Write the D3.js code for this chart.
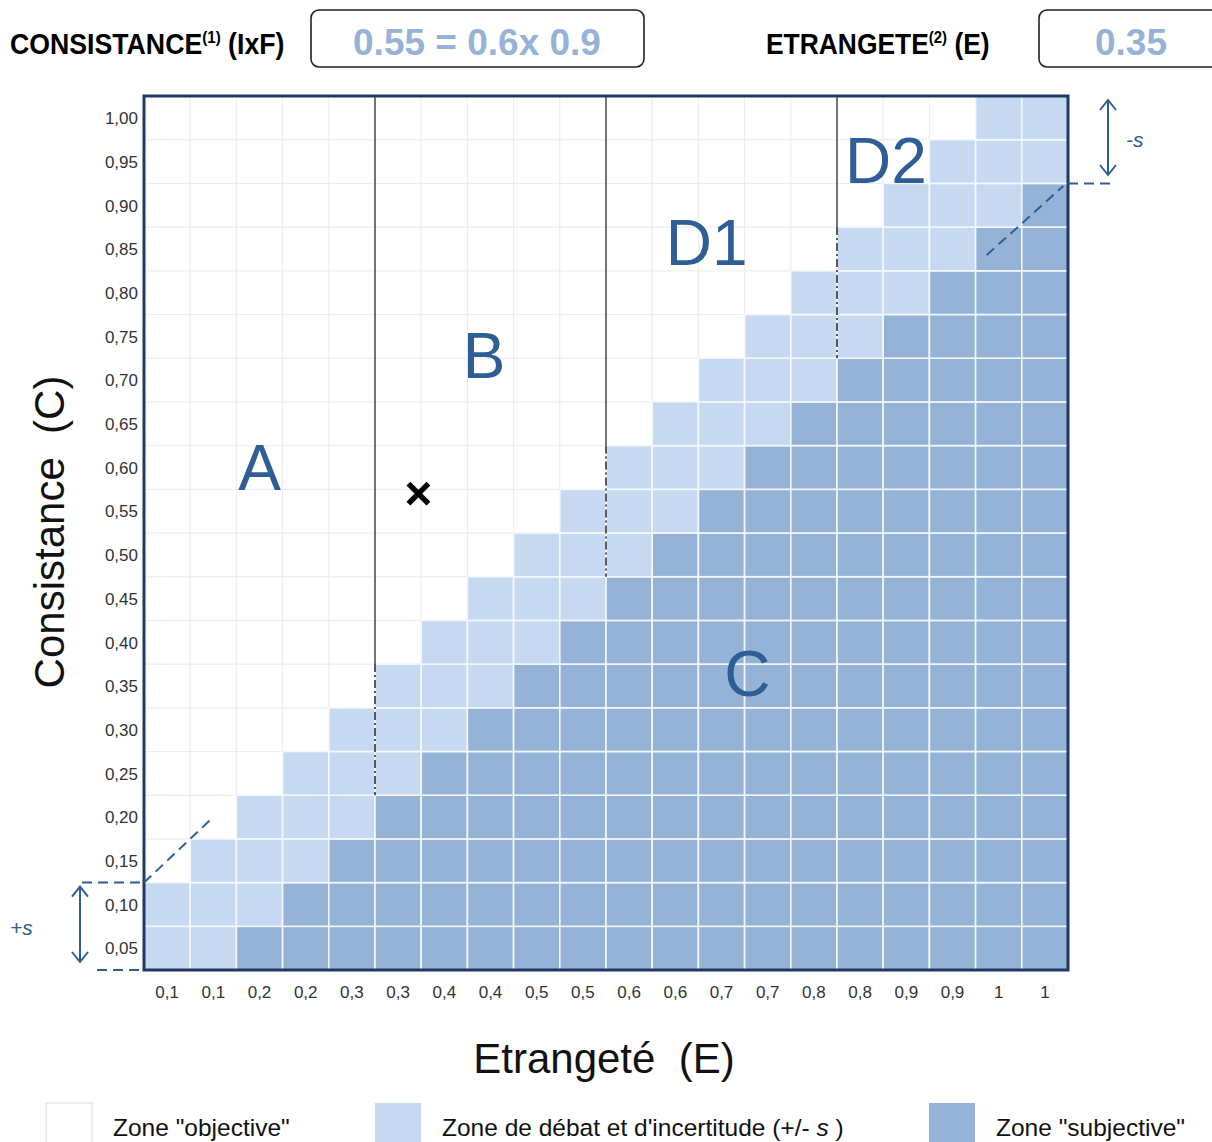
<!DOCTYPE html>
<html>
<head>
<meta charset="utf-8">
<script src="https://cdn.jsdelivr.net/npm/d3@7/dist/d3.min.js"></script>
<style>
  body { margin: 0; background: #fff; }
  svg { display: block; }
</style>
</head>
<body>
<svg width="1212" height="1142"></svg>
<script>
// values
var xLabels = ["0,1","0,1","0,2","0,2","0,3","0,3","0,4","0,4","0,5","0,5",
               "0,6","0,6","0,7","0,7","0,8","0,8","0,9","0,9","1","1"];
var yLabels = ["0,05","0,10","0,15","0,20","0,25","0,30","0,35","0,40","0,45","0,50",
               "0,55","0,60","0,65","0,70","0,75","0,80","0,85","0,90","0,95","1,00"];
// number of cells from the bottom of each column that are "subjective" / "debat"
var darkRows  = [0,0,1,2,3,4,5,6,7,8,9,10,11,12,13,14,15,16,17,18];
var lightRows = [2,3,4,5,6,7,8,9,10,11,12,13,14,15,16,17,18,19,20,20];
// zone separators: E position, end of solid part, end of dash-dot part (C)
var sepE     = [0.25, 0.50, 0.75];
var sepSolid = [0.35, 0.60, 0.85];
var sepDash  = [0.20, 0.45, 0.70];
var zoneNames = ["A", "B", "D1", "D2", "C"];
var zoneE     = [0.125, 0.368, 0.609, 0.803, 0.653];
var zoneC     = [0.575, 0.704, 0.833, 0.927, 0.340];
var markE = 0.297, markC = 0.545;
var legendLabels = ['Zone "objective"', "Zone de débat et d'incertitude (+/- ", 'Zone "subjective"'];

var white = "#ffffff", light = "#c6d9f0", dark = "#95b3d7", blue = "#2f5d95";

var svg = d3.select("svg");
var x = d3.scaleLinear().domain([0, 1]).range([144, 1068]),
    y = d3.scaleLinear().domain([0, 1]).range([970, 96]),
    xb = d3.scaleBand().domain(d3.range(20)).range([144, 1068]),
    yb = d3.scaleBand().domain(d3.range(20)).range([970, 96]);

// header
var head = svg.append("g").style("font-family", "'Liberation Sans', sans-serif")
  .style("font-weight", "bold");
var t1 = head.append("text").attr("transform", "translate(10,54) scale(0.89,1)")
  .attr("font-size", 30).attr("fill", "#000");
t1.append("tspan").text("CONSISTANCE");
t1.append("tspan").attr("dy", -11).attr("font-size", 17).text("(1)");
t1.append("tspan").attr("dy", 11).text(" (IxF)");
var t2 = head.append("text").attr("transform", "translate(766,54) scale(0.88,1)")
  .attr("font-size", 30).attr("fill", "#000");
t2.append("tspan").text("ETRANGETE");
t2.append("tspan").attr("dy", -11).attr("font-size", 17).text("(2)");
t2.append("tspan").attr("dy", 11).text(" (E)");

head.append("rect").attr("x", 311).attr("y", 10).attr("width", 333).attr("height", 57).attr("rx", 8)
  .attr("fill", "none").attr("stroke", "#222").attr("stroke-width", 1.6);
head.append("rect").attr("x", 1039).attr("y", 10).attr("width", 220).attr("height", 57).attr("rx", 8)
  .attr("fill", "none").attr("stroke", "#222").attr("stroke-width", 1.6);
head.append("text").attr("x", 477).attr("y", 55).attr("text-anchor", "middle").attr("font-size", 37)
  .attr("fill", dark).text("0.55 = 0.6x 0.9");
head.append("text").attr("x", 1131).attr("y", 55).attr("text-anchor", "middle").attr("font-size", 37)
  .attr("fill", dark).text("0.35");

// cells
var cells = [];
d3.range(20).forEach(function(i) {
  d3.range(20).forEach(function(r) {
    var f = r < darkRows[i] ? dark : (r < lightRows[i] ? light : white);
    cells.push({col: i, row: r, fill: f});
  });
});
cells.sort(function(a, b) { return (a.fill === white ? 0 : 1) - (b.fill === white ? 0 : 1); });

svg.append("g").selectAll("rect")
  .data(cells)
  .enter().append("rect")
    .attr("x", function(d) { return xb(d.col); })
    .attr("y", function(d) { return yb(d.row); })
    .attr("width", xb.bandwidth())
    .attr("height", yb.bandwidth())
    .attr("fill", function(d) { return d.fill; })
    .attr("stroke", function(d) { return d.fill === white ? "#ededed" : "#f4f8fc"; })
    .attr("stroke-width", function(d) { return d.fill === white ? 1 : 1.6; });

// zone separators
var seps = svg.append("g");
sepE.forEach(function(e, i) {
  seps.append("line").attr("x1", x(e)).attr("x2", x(e)).attr("y1", y(1)).attr("y2", y(sepSolid[i]))
    .attr("stroke", "#555").attr("stroke-width", 1.6);
  seps.append("line").attr("x1", x(e)).attr("x2", x(e)).attr("y1", y(sepSolid[i])).attr("y2", y(sepDash[i]))
    .attr("stroke", "#333").attr("stroke-width", 1.6).attr("stroke-dasharray", "8,3,2,3");
});

// frame
svg.append("rect").attr("x", x(0)).attr("y", y(1)).attr("width", x(1) - x(0)).attr("height", y(0) - y(1))
  .attr("fill", "none").attr("stroke", "#1f3864").attr("stroke-width", 3);

// axes
var ax = svg.append("g").attr("transform", "translate(0,980)")
  .call(d3.axisBottom(xb).tickSize(0).tickFormat(function(i) { return xLabels[i]; }));
var ay = svg.append("g").attr("transform", "translate(138," + yb.bandwidth() * 0.02 + ")")
  .call(d3.axisLeft(yb).tickSize(0).tickPadding(0).tickFormat(function(i) { return yLabels[i]; }));
[ax, ay].forEach(function(a) {
  a.select(".domain").remove();
  a.selectAll("text").attr("font-size", 17).attr("fill", "#333")
    .style("font-family", "'Liberation Sans', sans-serif");
});
ax.selectAll("text").attr("dy", "0.9em");

svg.append("text").attr("transform", "translate(64,532) rotate(-90)").attr("text-anchor", "middle")
  .style("font-family", "'Liberation Sans', sans-serif").attr("font-size", 42).attr("fill", "#111")
  .attr("xml:space", "preserve").text("Consistance  (C)");
svg.append("text").attr("x", 604).attr("y", 1073).attr("text-anchor", "middle")
  .style("font-family", "'Liberation Sans', sans-serif").attr("font-size", 42).attr("fill", "#111")
  .attr("xml:space", "preserve").text("Etrangeté  (E)");

// zone letters
svg.append("g").selectAll("text")
  .data(zoneNames)
  .enter().append("text")
    .attr("x", function(d, i) { return x(zoneE[i]); })
    .attr("y", function(d, i) { return y(zoneC[i]); })
    .attr("dy", "0.36em")
    .attr("text-anchor", "middle")
    .style("font-family", "'Liberation Sans', sans-serif")
    .attr("font-size", 64)
    .attr("fill", blue)
    .text(function(d) { return d; });

// marker
var mk = svg.append("g").attr("transform", "translate(" + x(markE) + "," + y(markC) + ")");
mk.append("path").attr("d", "M-10,-10L10,10M10,-10L-10,10").attr("stroke", "#000").attr("stroke-width", 5.5);

// +s / -s annotations
var ann = svg.append("g").attr("stroke", blue).attr("stroke-width", 2).attr("fill", "none");
ann.append("line").attr("x1", 82).attr("x2", x(0)).attr("y1", y(0.10)).attr("y2", y(0.10)).attr("stroke-dasharray", "10,6");
ann.append("line").attr("x1", 97).attr("x2", x(0)).attr("y1", y(0)).attr("y2", y(0)).attr("stroke-dasharray", "10,6");
ann.append("line").attr("x1", x(0)).attr("x2", x(0.075)).attr("y1", y(0.10)).attr("y2", y(0.175)).attr("stroke-dasharray", "10,6");
ann.append("path").attr("d", "M80," + (y(0.10) + 4) + "V" + (y(0) - 8));
ann.append("path").attr("d", "M72," + (y(0.10) + 14) + "L80," + (y(0.10) + 4) + "L88," + (y(0.10) + 14));
ann.append("path").attr("d", "M72," + (y(0) - 18) + "L80," + (y(0) - 8) + "L88," + (y(0) - 18));

ann.append("line").attr("x1", x(1)).attr("x2", 1114).attr("y1", y(0.90)).attr("y2", y(0.90)).attr("stroke-dasharray", "10,6");
ann.append("line").attr("x1", x(0.912)).attr("x2", x(0.995)).attr("y1", y(0.818)).attr("y2", y(0.897)).attr("stroke-dasharray", "10,6");
ann.append("path").attr("d", "M1108,100V175");
ann.append("path").attr("d", "M1100,110L1108,100L1116,110");
ann.append("path").attr("d", "M1100,165L1108,175L1116,165");

svg.append("text").attr("x", 10).attr("y", 935).attr("font-size", 21).attr("font-style", "italic")
  .style("font-family", "'Liberation Sans', sans-serif").attr("fill", blue).text("+s");
svg.append("text").attr("x", 1126).attr("y", 147).attr("font-size", 21).attr("font-style", "italic")
  .style("font-family", "'Liberation Sans', sans-serif").attr("fill", blue).text("-s");

// legend
var legX = [46, 375, 929];
var legFill = [white, light, dark];
var leg = svg.append("g").selectAll("g")
  .data(legendLabels)
  .enter().append("g")
    .attr("transform", function(d, i) { return "translate(" + legX[i] + ",1103)"; });
leg.append("rect").attr("width", 46).attr("height", 50)
  .attr("fill", function(d, i) { return legFill[i]; })
  .attr("stroke", function(d, i) { return i === 0 ? "#ddd" : "none"; });
var lt = leg.append("text").attr("x", 67).attr("y", 33)
  .style("font-family", "'Liberation Sans', sans-serif")
  .attr("font-size", 24.5).attr("fill", "#111");
lt.append("tspan").text(function(d) { return d; });
lt.filter(function(d, i) { return i === 1; }).append("tspan").attr("font-style", "italic").text("s");
lt.filter(function(d, i) { return i === 1; }).append("tspan").text(" )");
</script>
</body>
</html>
